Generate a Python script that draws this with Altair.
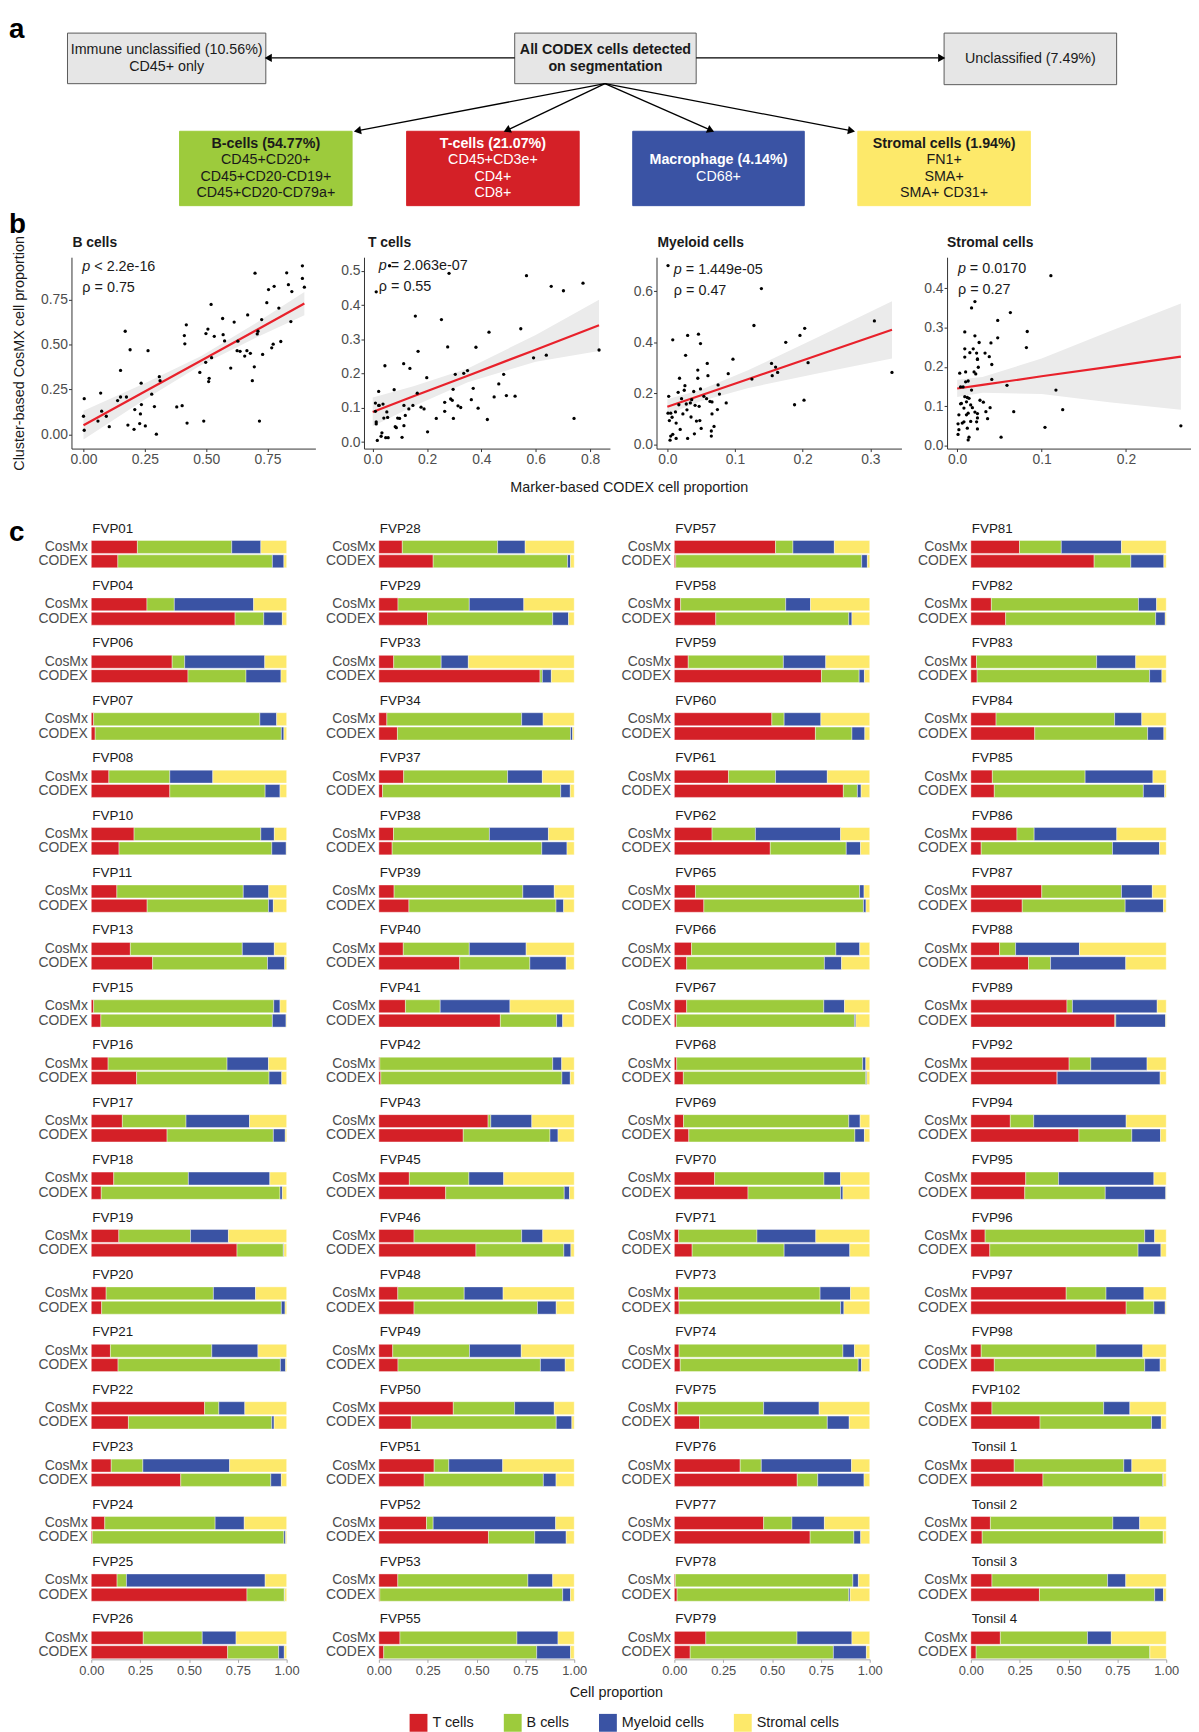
import math
import altair as alt
import pandas as pd

FONT = "Liberation Sans"
INK = "#1A1A1A"
LABEL_GREY = "#4D4D4D"

CELL_TYPES = ["T cells", "B cells", "Myeloid cells", "Stromal cells"]
CELL_COLORS = ["#D42027", "#9DCB3C", "#3A53A4", "#FDE96A"]

# ------------------------------------------------------------------ panel a
box_lines = [
    ["Immune unclassified (10.56%)", "CD45+ only"],
    ["All CODEX cells detected", "on segmentation"],
    ["Unclassified (7.49%)"],
    ["B-cells (54.77%)", "CD45+CD20+", "CD45+CD20-CD19+", "CD45+CD20-CD79a+"],
    ["T-cells (21.07%)", "CD45+CD3e+", "CD4+", "CD8+"],
    ["Macrophage (4.14%)", "CD68+"],
    ["Stromal cells (1.94%)", "FN1+", "SMA+", "SMA+ CD31+"],
]
box_bold = [0, 2, 0, 1, 1, 1, 1]
box_fill = ["#E6E6E6", "#E6E6E6", "#E6E6E6", "#9DCB3C", "#D42027", "#3A53A4", "#FDE96A"]
box_ink = [INK, INK, INK, INK, "white", "white", INK]

# diagram layout (page pixels)
BOX_X0 = [68, 519, 952, 181, 410, 638, 865]
BOX_X1 = [268, 702, 1126, 355, 584, 811, 1039]
BOX_Y0 = [26, 26, 26, 125, 125, 125, 125]
BOX_Y1 = [77, 77, 78, 200, 200, 200, 200]
BOX_LINE_H = [17.6, 17.6, 17.6, 16.6, 16.6, 16.6, 16.6]
ARROW_FROM = [(519, 51), (702, 51), (610, 77), (610, 77), (610, 77), (610, 77)]
ARROW_TO = [(268, 51), (952, 51), (358, 125), (509, 125), (719, 125), (861, 125)]
HEAD_SIZE = 70

# ------------------------------------------------------------------ panel b
b_x = [0.003, 0.000, 0.003, 0.070, 0.074, 0.059, 0.093, 0.105, 0.139, 0.151,
       0.151, 0.175, 0.170, 0.190, 0.181, 0.209, 0.206, 0.235, 0.236, 0.232,
       0.229, 0.252, 0.263, 0.278, 0.289, 0.297, 0.309, 0.312, 0.380, 0.402,
       0.411, 0.413, 0.419, 0.422, 0.474, 0.490, 0.499, 0.507, 0.498, 0.520,
       0.522, 0.512, 0.510, 0.533, 0.567, 0.569, 0.575, 0.600, 0.614, 0.629,
       0.626, 0.638, 0.657, 0.669, 0.666, 0.680, 0.688, 0.696, 0.699, 0.708,
       0.711, 0.717, 0.726, 0.730, 0.747, 0.754, 0.767, 0.773, 0.777, 0.796,
       0.804, 0.828, 0.835, 0.845, 0.849, 0.892, 0.892, 0.900]
b_y = [0.198, 0.100, 0.022, 0.229, 0.128, 0.073, 0.100, 0.042, 0.187, 0.355,
       0.207, 0.207, 0.573, 0.470, 0.051, 0.137, 0.027, 0.284, 0.165, 0.113,
       0.059, 0.046, 0.465, 0.223, 0.154, 0.000, 0.320, 0.298, 0.152, 0.159,
       0.549, 0.503, 0.609, 0.062, 0.344, 0.073, 0.560, 0.585, 0.400, 0.722,
       0.426, 0.311, 0.293, 0.545, 0.644, 0.554, 0.519, 0.368, 0.624, 0.518,
       0.465, 0.461, 0.435, 0.664, 0.465, 0.450, 0.298, 0.375, 0.896, 0.558,
       0.573, 0.073, 0.638, 0.444, 0.732, 0.805, 0.481, 0.501, 0.823, 0.702,
       0.516, 0.898, 0.832, 0.627, 0.794, 0.867, 0.937, 0.818]
b_fit_x = [0.0, 0.25, 0.48, 0.70, 0.90]
b_fit_y = [0.050, 0.238, 0.410, 0.576, 0.727]
b_fit_lo = [-0.030, 0.193, 0.385, 0.536, 0.662]
b_fit_hi = [0.130, 0.283, 0.435, 0.616, 0.792]

t_x = [0.013, 0.062, 0.281, 0.010, 0.010, 0.013, 0.013, 0.022, 0.022, 0.017,
       0.024, 0.031, 0.034, 0.041, 0.038, 0.045, 0.052, 0.055, 0.048, 0.057,
       0.079, 0.083, 0.087, 0.092, 0.099, 0.108, 0.114, 0.115, 0.115, 0.120,
       0.133, 0.137, 0.148, 0.157, 0.164, 0.167, 0.178, 0.189, 0.199, 0.202,
       0.234, 0.253, 0.265, 0.265, 0.276, 0.287, 0.293, 0.296, 0.297, 0.304,
       0.314, 0.324, 0.335, 0.349, 0.363, 0.370, 0.380, 0.388, 0.422, 0.428,
       0.447, 0.464, 0.482, 0.492, 0.524, 0.545, 0.566, 0.592, 0.639, 0.657,
       0.702, 0.741, 0.774, 0.833]
t_y = [0.439, 0.515, 0.493, 0.114, 0.090, 0.059, 0.053, 0.107, 0.148, 0.005,
       0.107, 0.017, 0.027, 0.070, 0.111, 0.223, 0.088, 0.072, 0.013, 0.013,
       0.153, 0.045, 0.042, 0.070, 0.069, 0.014, 0.229, 0.107, 0.048, 0.078,
       0.097, 0.215, 0.107, 0.368, 0.143, 0.265, 0.102, 0.097, 0.188, 0.030,
       0.069, 0.358, 0.116, 0.090, 0.278, 0.126, 0.122, 0.154, 0.069, 0.198,
       0.106, 0.101, 0.201, 0.209, 0.124, 0.157, 0.277, 0.099, 0.066, 0.321,
       0.132, 0.170, 0.198, 0.136, 0.134, 0.331, 0.486, 0.246, 0.254, 0.455,
       0.442, 0.069, 0.464, 0.269]
t_fit_x = [0.0, 0.15, 0.35, 0.60, 0.833]
t_fit_y = [0.088, 0.134, 0.194, 0.270, 0.341]
t_fit_lo = [0.046, 0.105, 0.175, 0.235, 0.266]
t_fit_hi = [0.130, 0.163, 0.215, 0.313, 0.416]

m_x = [0.001, 0.002, 0.001, 0.003, 0.005, 0.007, 0.005, 0.004, 0.008, 0.008,
       0.012, 0.013, 0.013, 0.016, 0.018, 0.017, 0.019, 0.021, 0.023, 0.025,
       0.026, 0.027, 0.028, 0.029, 0.030, 0.030, 0.034, 0.035, 0.036, 0.039,
       0.040, 0.041, 0.043, 0.045, 0.045, 0.046, 0.047, 0.048, 0.049, 0.049,
       0.050, 0.054, 0.058, 0.059, 0.060, 0.063, 0.066, 0.066, 0.065, 0.065,
       0.069, 0.074, 0.075, 0.077, 0.087, 0.090, 0.097, 0.125, 0.128, 0.139,
       0.154, 0.155, 0.160, 0.163, 0.175, 0.188, 0.196, 0.202, 0.203, 0.208,
       0.306, 0.332]
m_y = [0.701, 0.188, 0.122, 0.093, 0.122, 0.106, 0.032, 0.016, 0.410, 0.039,
       0.127, 0.083, 0.023, 0.204, 0.259, 0.155, 0.058, 0.179, 0.119, 0.212,
       0.230, 0.349, 0.158, 0.135, 0.427, 0.023, 0.162, 0.107, 0.175, 0.207,
       0.041, 0.153, 0.091, 0.259, 0.291, 0.432, 0.149, 0.093, 0.395, 0.217,
       0.062, 0.188, 0.179, 0.317, 0.269, 0.168, 0.166, 0.119, 0.052, 0.032,
       0.070, 0.136, 0.233, 0.197, 0.162, 0.277, 0.334, 0.256, 0.466, 0.611,
       0.317, 0.269, 0.303, 0.282, 0.400, 0.155, 0.427, 0.173, 0.455, 0.320,
       0.484, 0.282]
m_fit_x = [0.0, 0.05, 0.12, 0.22, 0.332]
m_fit_y = [0.147, 0.192, 0.256, 0.347, 0.449]
m_fit_lo = [0.117, 0.170, 0.221, 0.277, 0.337]
m_fit_hi = [0.177, 0.214, 0.291, 0.417, 0.561]

s_x = [0.001, 0.002, 0.001, 0.002, 0.004, 0.003, 0.004, 0.005, 0.006, 0.007,
       0.008, 0.008, 0.009, 0.009, 0.009, 0.009, 0.010, 0.010, 0.011, 0.011,
       0.012, 0.012, 0.013, 0.013, 0.013, 0.014, 0.014, 0.015, 0.016, 0.016,
       0.017, 0.017, 0.018, 0.019, 0.020, 0.021, 0.021, 0.021, 0.022, 0.023,
       0.023, 0.024, 0.024, 0.025, 0.024, 0.024, 0.024, 0.026, 0.027, 0.031,
       0.033, 0.034, 0.036, 0.038, 0.039, 0.040, 0.041, 0.041, 0.048, 0.048,
       0.052, 0.059, 0.063, 0.067, 0.082, 0.083, 0.104, 0.111, 0.117, 0.125,
       0.265]
s_y = [0.055, 0.078, 0.028, 0.040, 0.106, 0.184, 0.149, 0.107, 0.057, 0.149,
       0.095, 0.060, 0.289, 0.246, 0.225, 0.124, 0.162, 0.187, 0.111, 0.078,
       0.044, 0.122, 0.082, 0.014, 0.164, 0.120, 0.021, 0.236, 0.103, 0.061,
       0.350, 0.141, 0.096, 0.246, 0.187, 0.366, 0.279, 0.085, 0.182, 0.060,
       0.235, 0.220, 0.219, 0.199, 0.081, 0.070, 0.042, 0.262, 0.115, 0.110,
       0.235, 0.086, 0.068, 0.226, 0.096, 0.261, 0.206, 0.168, 0.318, 0.274,
       0.021, 0.153, 0.338, 0.086, 0.249, 0.290, 0.046, 0.432, 0.141, 0.091,
       0.050]
s_fit_x = [0.0, 0.03, 0.10, 0.18, 0.265]
s_fit_y = [0.145, 0.154, 0.176, 0.200, 0.226]
s_fit_lo = [0.123, 0.134, 0.131, 0.110, 0.091]
s_fit_hi = [0.167, 0.174, 0.221, 0.290, 0.361]

# ------------------------------------------------------------------ panel c
samples_col1 = ["FVP01", "FVP04", "FVP06", "FVP07", "FVP08", "FVP10", "FVP11", "FVP13", "FVP15", "FVP16",
                "FVP17", "FVP18", "FVP19", "FVP20", "FVP21", "FVP22", "FVP23", "FVP24", "FVP25", "FVP26"]
samples_col2 = ["FVP28", "FVP29", "FVP33", "FVP34", "FVP37", "FVP38", "FVP39", "FVP40", "FVP41", "FVP42",
                "FVP43", "FVP45", "FVP46", "FVP48", "FVP49", "FVP50", "FVP51", "FVP52", "FVP53", "FVP55"]
samples_col3 = ["FVP57", "FVP58", "FVP59", "FVP60", "FVP61", "FVP62", "FVP65", "FVP66", "FVP67", "FVP68",
                "FVP69", "FVP70", "FVP71", "FVP73", "FVP74", "FVP75", "FVP76", "FVP77", "FVP78", "FVP79"]
samples_col4 = ["FVP81", "FVP82", "FVP83", "FVP84", "FVP85", "FVP86", "FVP87", "FVP88", "FVP89", "FVP92",
                "FVP94", "FVP95", "FVP96", "FVP97", "FVP98", "FVP102", "Tonsil 1", "Tonsil 2", "Tonsil 3", "Tonsil 4"]

# cumulative proportion where each cell type ends (T | T+B | T+B+Myeloid), in sample order
cosmx_T_end = [0.236, 0.285, 0.414, 0.012, 0.090, 0.219, 0.131, 0.200, 0.012, 0.086,
               0.159, 0.115, 0.141, 0.076, 0.098, 0.580, 0.102, 0.069, 0.132, 0.266,
               0.120, 0.098, 0.076, 0.041, 0.127, 0.075, 0.078, 0.125, 0.136, 0.005,
               0.559, 0.156, 0.180, 0.097, 0.071, 0.381, 0.283, 0.244, 0.097, 0.108,
               0.518, 0.032, 0.071, 0.499, 0.277, 0.193, 0.108, 0.088, 0.063, 0.012,
               0.047, 0.206, 0.022, 0.022, 0.024, 0.017, 0.337, 0.457, 0.005, 0.161,
               0.249, 0.105, 0.029, 0.129, 0.110, 0.236, 0.363, 0.147, 0.492, 0.503,
               0.202, 0.281, 0.073, 0.488, 0.053, 0.108, 0.222, 0.100, 0.108, 0.151]
cosmx_B_end = [0.719, 0.425, 0.478, 0.863, 0.402, 0.868, 0.778, 0.773, 0.934, 0.695,
               0.485, 0.497, 0.508, 0.625, 0.617, 0.653, 0.264, 0.634, 0.180, 0.568,
               0.608, 0.463, 0.319, 0.731, 0.659, 0.566, 0.737, 0.463, 0.314, 0.890,
               0.573, 0.461, 0.731, 0.437, 0.464, 0.695, 0.358, 0.278, 0.763, 0.707,
               0.607, 0.570, 0.558, 0.562, 0.518, 0.415, 0.948, 0.827, 0.765, 0.964,
               0.893, 0.766, 0.423, 0.746, 0.863, 0.457, 0.445, 0.602, 0.914, 0.628,
               0.463, 0.858, 0.644, 0.736, 0.585, 0.324, 0.771, 0.229, 0.520, 0.614,
               0.322, 0.449, 0.890, 0.692, 0.641, 0.680, 0.783, 0.727, 0.700, 0.597]
cosmx_M_end = [0.868, 0.831, 0.888, 0.949, 0.622, 0.937, 0.908, 0.937, 0.966, 0.907,
               0.810, 0.914, 0.702, 0.841, 0.853, 0.786, 0.708, 0.783, 0.890, 0.741,
               0.749, 0.742, 0.458, 0.841, 0.837, 0.868, 0.898, 0.754, 0.671, 0.936,
               0.783, 0.639, 0.839, 0.636, 0.729, 0.898, 0.634, 0.905, 0.890, 0.917,
               0.819, 0.697, 0.775, 0.750, 0.783, 0.851, 0.971, 0.949, 0.871, 0.980,
               0.951, 0.851, 0.724, 0.902, 0.922, 0.741, 0.907, 0.768, 0.942, 0.909,
               0.771, 0.951, 0.844, 0.875, 0.932, 0.747, 0.929, 0.556, 0.954, 0.902,
               0.795, 0.937, 0.941, 0.886, 0.880, 0.814, 0.824, 0.864, 0.793, 0.719]
codex_T_end = [0.136, 0.736, 0.495, 0.020, 0.402, 0.142, 0.286, 0.314, 0.049, 0.232,
               0.388, 0.051, 0.746, 0.053, 0.137, 0.190, 0.458, 0.005, 0.797, 0.698,
               0.278, 0.249, 0.825, 0.095, 0.019, 0.068, 0.154, 0.414, 0.622, 0.010,
               0.432, 0.342, 0.497, 0.180, 0.098, 0.166, 0.232, 0.561, 0.005, 0.025,
               0.007, 0.212, 0.753, 0.722, 0.865, 0.491, 0.151, 0.063, 0.010, 0.046,
               0.074, 0.377, 0.091, 0.024, 0.030, 0.129, 0.629, 0.695, 0.014, 0.081,
               0.631, 0.178, 0.032, 0.327, 0.120, 0.053, 0.263, 0.295, 0.737, 0.442,
               0.553, 0.276, 0.097, 0.795, 0.120, 0.354, 0.369, 0.058, 0.351, 0.027]
codex_B_end = [0.927, 0.883, 0.792, 0.973, 0.890, 0.924, 0.907, 0.902, 0.927, 0.910,
               0.932, 0.966, 0.983, 0.973, 0.968, 0.924, 0.919, 0.986, 0.988, 0.959,
               0.966, 0.890, 0.837, 0.981, 0.931, 0.834, 0.907, 0.773, 0.910, 0.937,
               0.876, 0.949, 0.947, 0.812, 0.827, 0.908, 0.842, 0.798, 0.941, 0.808,
               0.959, 0.893, 0.946, 0.909, 0.937, 0.880, 0.968, 0.768, 0.922, 0.980,
               0.924, 0.851, 0.562, 0.851, 0.941, 0.783, 0.734, 0.919, 0.893, 0.814,
               0.819, 0.946, 0.915, 0.905, 0.883, 0.725, 0.790, 0.408, 0.742, 0.442,
               0.824, 0.688, 0.856, 0.937, 0.890, 0.925, 0.981, 0.985, 0.941, 0.917]
codex_M_end = [0.986, 0.978, 0.971, 0.986, 0.966, 0.998, 0.932, 0.990, 0.997, 0.975,
               0.993, 0.978, 0.986, 0.992, 0.995, 0.936, 0.973, 0.995, 0.990, 0.988,
               0.981, 0.971, 0.883, 0.992, 0.980, 0.963, 0.946, 0.959, 0.941, 0.980,
               0.917, 0.976, 0.983, 0.908, 0.954, 0.988, 0.907, 0.959, 0.981, 0.981,
               0.988, 0.909, 0.973, 0.975, 0.956, 0.953, 0.981, 0.856, 0.929, 0.985,
               0.973, 0.863, 0.898, 0.868, 0.958, 0.895, 0.971, 0.954, 0.900, 0.983,
               0.988, 0.995, 0.978, 0.988, 0.992, 0.966, 0.986, 0.793, 0.997, 0.969,
               0.971, 0.998, 0.973, 0.995, 0.969, 0.975, 0.985, 0.986, 0.986, 0.917]


# ================================================================== helpers
LETTER_SIZE = 28


def blank(w, y0=0, y1=1, letter=None, lx=1, ly=0):
    frame = (alt.Chart(pd.DataFrame({"d": [0]})).mark_rect(opacity=0)
             .encode(x=alt.value(0), x2=alt.value(w), y=alt.value(y0), y2=alt.value(y1)))
    layers = [frame]
    if letter:
        layers.append(alt.Chart(pd.DataFrame({"t": [letter]}))
                      .mark_text(fontSize=LETTER_SIZE, fontWeight="bold", align="left",
                                 baseline="alphabetic", color="black")
                      .encode(text="t:N", x=alt.value(lx), y=alt.value(ly)))
    return alt.layer(*layers).properties(width=w, height=1)


# ================================================================== panel a
B_TOP = 50                      # room reserved above the scatter plots
A_W, A_H = 1183, 194
xa = alt.Scale(domain=[8, 8 + A_W], nice=False, zero=False)
ya = alt.Scale(domain=[8, 8 + A_H], nice=False, zero=False, reverse=True)

rect_df = pd.DataFrame({"x0": BOX_X0, "x1": BOX_X1, "y0": BOX_Y0, "y1": BOX_Y1,
                        "fill": box_fill, "stroke": ["#595959"] * 3 + box_fill[3:]})
trows = []
for i, lines in enumerate(box_lines):
    cx = (BOX_X0[i] + BOX_X1[i]) / 2
    cy = (BOX_Y0[i] + BOX_Y1[i]) / 2
    n = len(lines)
    for j, line in enumerate(lines):
        trows.append({"x": cx, "y": cy + (j - (n - 1) / 2) * BOX_LINE_H[i], "text": line,
                      "bold": j < box_bold[i], "ink": box_ink[i]})
text_df = pd.DataFrame(trows)

r_sym = math.sqrt(HEAD_SIZE) / 2
h_sym = math.sqrt(3) * r_sym / 2
arows, hrows = [], []
for (x0, y0), (x1, y1) in zip(ARROW_FROM, ARROW_TO):
    d = math.hypot(x1 - x0, y1 - y0)
    ux, uy = (x1 - x0) / d, (y1 - y0) / d
    arows.append({"xa": x0, "ya": y0, "xb": x1 - ux * 1.6 * h_sym, "yb": y1 - uy * 1.6 * h_sym})
    hrows.append({"x": x1 - ux * h_sym, "y": y1 - uy * h_sym,
                  "ang": math.degrees(math.atan2(ux, -uy)) % 360})
arrow_df = pd.DataFrame(arows)
head_df = pd.DataFrame(hrows)
letters_df = pd.DataFrame({"x": [9], "y": [31], "t": ["a"]})

rect_l = alt.Chart(rect_df).mark_rect(strokeWidth=1).encode(
    x=alt.X("x0:Q", scale=xa, axis=None), x2="x1:Q",
    y=alt.Y("y0:Q", scale=ya, axis=None), y2="y1:Q",
    fill=alt.Fill("fill:N", scale=None), stroke=alt.Stroke("stroke:N", scale=None))
rule_l = alt.Chart(arrow_df).mark_rule(color="black", strokeWidth=1.3).encode(
    x=alt.X("xa:Q", scale=xa, axis=None), x2="xb:Q",
    y=alt.Y("ya:Q", scale=ya, axis=None), y2="yb:Q")
head_l = alt.Chart(head_df).mark_point(shape="triangle", filled=True, color="black",
                                        size=HEAD_SIZE, opacity=1).encode(
    x=alt.X("x:Q", scale=xa, axis=None), y=alt.Y("y:Q", scale=ya, axis=None),
    angle=alt.Angle("ang:Q", scale=None))
txt_base = alt.Chart(text_df).encode(
    x=alt.X("x:Q", scale=xa, axis=None), y=alt.Y("y:Q", scale=ya, axis=None),
    text="text:N", fill=alt.Fill("ink:N", scale=None))
txt_n = txt_base.transform_filter("!datum.bold").mark_text(fontSize=14.4, baseline="middle", align="center")
txt_b = txt_base.transform_filter("datum.bold").mark_text(fontSize=14.4, fontWeight="bold",
                                                         baseline="middle", align="center")
let_l = alt.Chart(letters_df).mark_text(fontSize=LETTER_SIZE, fontWeight="bold", align="left",
                                        baseline="alphabetic", color="black").encode(
    x=alt.X("x:Q", scale=xa, axis=None), y=alt.Y("y:Q", scale=ya, axis=None), text="t:N")
panel_a = alt.layer(rect_l, rule_l, head_l, txt_n, txt_b, let_l).properties(width=A_W, height=A_H)


# ================================================================== panel b
B_H = 193


def scatter(px, py, fx, fy, lo, hi, xdom, ydom, xticks, yticks, fmt, width, title, title_dx,
            ann, p_rest, rho_text, y_title=None, x_title=None):
    pts = pd.DataFrame({"x": px, "y": py})
    fit = pd.DataFrame({"x": fx, "y": fy, "lo": lo, "hi": hi})
    xs = alt.Scale(domain=xdom, nice=False, zero=False)
    ys = alt.Scale(domain=ydom, nice=False, zero=False)
    common = dict(grid=False, domainColor="#333333", tickColor="#333333", tickSize=3,
                  labelColor=LABEL_GREY, labelFontSize=14, labelPadding=1,
                  titleFontSize=14.5, titleFontWeight="normal", titleColor=INK, titleBaseline="middle")
    if x_title:
        xaxis = alt.Axis(values=xticks, format=fmt, labelFlush=False, title=x_title[0],
                         titleX=x_title[1], titleY=x_title[2], **common)
    else:
        xaxis = alt.Axis(values=xticks, format=fmt, labelFlush=False, title=None, **common)
    if y_title:
        yaxis = alt.Axis(values=yticks, format=fmt, title=y_title[0], titleX=y_title[1],
                         titleY=y_title[2], **common)
    else:
        yaxis = alt.Axis(values=yticks, format=fmt, title=None, **common)
    X = lambda f: alt.X(f, scale=xs, axis=xaxis)
    Y = lambda f: alt.Y(f, scale=ys, axis=yaxis)
    band = alt.Chart(fit).mark_area(color="#EBEBEB", opacity=1).encode(x=X("x:Q"), y=Y("lo:Q"), y2="hi:Q")
    line = alt.Chart(fit).mark_line(color="#E8212B", strokeWidth=2.2).encode(x=X("x:Q"), y=Y("y:Q"))
    dots = alt.Chart(pts).mark_circle(color="black", size=11, opacity=1).encode(x=X("x:Q"), y=Y("y:Q"))
    ax, ay = ann

    def label(t, x, y, **kw):
        return alt.Chart(pd.DataFrame({"t": [t]})).mark_text(
            align="left", baseline="middle", color=INK, **kw).encode(
            text="t:N", x=alt.value(x), y=alt.value(y))

    p_it = label("p", ax, ay, fontSize=14.5, fontStyle="italic")
    p_tx = label(p_rest, ax + 12, ay, fontSize=14.5)
    rho = label(rho_text, ax, ay + 21, fontSize=14.5)
    ttl = label(title, title_dx, -14, fontSize=14, fontWeight="bold")
    return alt.layer(band, line, dots, p_it, p_tx, rho, ttl).properties(width=width, height=B_H)


ch_b = scatter(b_x, b_y, b_fit_x, b_fit_y, b_fit_lo, b_fit_hi, [-0.049, 0.945], [-0.08, 0.985],
               [0, 0.25, 0.5, 0.75], [0, 0.25, 0.5, 0.75], ".2f", 246, "B cells", 1,
               (11, 10), "< 2.2e-16", "\u03c1 = 0.75",
               y_title=("Cluster-based CosMX cell proportion", -52, B_H / 2))
ch_t = scatter(t_x, t_y, t_fit_x, t_fit_y, t_fit_lo, t_fit_hi, [-0.032, 0.873], [-0.019, 0.54],
               [0, 0.2, 0.4, 0.6, 0.8], [0, 0.1, 0.2, 0.3, 0.4, 0.5], ".1f", 248, "T cells", 4,
               (15, 9), "= 2.063e-07", "\u03c1 = 0.55",
               x_title=("Marker-based CODEX cell proportion", 267, 39))
ch_m = scatter(m_x, m_y, m_fit_x, m_fit_y, m_fit_lo, m_fit_hi, [-0.016, 0.346], [-0.017, 0.734],
               [0, 0.1, 0.2, 0.3], [0, 0.2, 0.4, 0.6], ".1f", 247, "Myeloid cells", 1,
               (17.5, 13), "= 1.449e-05", "\u03c1 = 0.47")
ch_s = scatter(s_x, s_y, s_fit_x, s_fit_y, s_fit_lo, s_fit_hi, [-0.012, 0.277], [-0.008, 0.479],
               [0, 0.1, 0.2], [0, 0.1, 0.2, 0.3, 0.4], ".1f", 246, "Stromal cells", 0,
               (11, 12), "= 0.0170", "\u03c1 = 0.27")

# ================================================================== panel c
C_W, C_H = 197, 1158
LEGEND = alt.Legend(orient="none", legendX=405, legendY=1713, direction="horizontal", columns=4,
                    title=None, symbolType="square", symbolSize=324, symbolStrokeWidth=0,
                    labelFontSize=14.5, labelColor=INK, labelOffset=5, columnPadding=30)


def column(samples, k0, x_title=None):
    rows, trows_, keys = [], [], []
    for i, s in enumerate(samples):
        k = k0 + i
        keys += [f"{s}|a", f"{s}|b", f"{s}|CosMx", f"{s}|CODEX"]
        trows_.append({"key": f"{s}|b", "xpos": 0.0, "sample": s})
        for src, ends in (("CosMx", (cosmx_T_end[k], cosmx_B_end[k], cosmx_M_end[k])),
                          ("CODEX", (codex_T_end[k], codex_B_end[k], codex_M_end[k]))):
            edges = [0.0, *ends, 1.0]
            for j, cell in enumerate(CELL_TYPES):
                rows.append({"key": f"{s}|{src}", "x0": edges[j], "x1": edges[j + 1], "cell": cell})
    df = pd.DataFrame(rows)
    tdf = pd.DataFrame(trows_)
    xs = alt.Scale(domain=[0, 1], nice=False, zero=False)
    ys = alt.Scale(domain=keys, paddingInner=0.1, paddingOuter=0.05)
    xkw = dict(values=[0, 0.25, 0.5, 0.75, 1.0], format=".2f", labelFlush=False, grid=False,
               domainColor="#A6A6A6", tickColor="#A6A6A6", tickSize=3, labelColor=LABEL_GREY,
               labelFontSize=13, labelPadding=2)
    if x_title:
        xaxis = alt.Axis(title=x_title[0], titleX=x_title[1], titleY=x_title[2], titleFontSize=14.5,
                         titleFontWeight="normal", titleColor=INK, titleBaseline="middle", **xkw)
    else:
        xaxis = alt.Axis(title=None, **xkw)
    yaxis = alt.Axis(title=None, domain=False, ticks=False, labelFontSize=14, labelColor=LABEL_GREY,
                     labelPadding=4, labelOverlap=False,
                     labelExpr="indexof(datum.value, '|CosMx') >= 0 ? 'CosMx' : "
                               "(indexof(datum.value, '|CODEX') >= 0 ? 'CODEX' : '')")
    bars = alt.Chart(df).mark_bar(stroke="white", strokeWidth=0.4).encode(
        x=alt.X("x0:Q", scale=xs, axis=xaxis), x2="x1:Q",
        y=alt.Y("key:N", scale=ys, axis=yaxis),
        color=alt.Color("cell:N", scale=alt.Scale(domain=CELL_TYPES, range=CELL_COLORS), legend=LEGEND))
    names = alt.Chart(tdf).mark_text(align="left", baseline="middle", dy=-4, dx=1, fontSize=13.5,
                                     color=INK).encode(
        x=alt.X("xpos:Q", scale=xs, axis=xaxis), y=alt.Y("key:N", scale=ys, axis=yaxis), text="sample:N")
    return alt.layer(bars, names).properties(width=C_W, height=C_H)


col1 = column(samples_col1, 0)
col2 = column(samples_col2, 20, x_title=("Cell proportion", 239, 33))
col3 = column(samples_col3, 40)
col4 = column(samples_col4, 60)

# ================================================================== layout
row_b = alt.hconcat(blank(64, -B_TOP, 255, "b", 1, -24), ch_b, blank(49), ch_t, blank(47), ch_m,
                    blank(46), ch_s, spacing=0, bounds="flush")
row_c = alt.hconcat(blank(84, 0, 1, "c", 1, 30), col1, blank(93), col2, blank(101), col3,
                    blank(102), col4, spacing=0, bounds="flush")

chart = alt.vconcat(panel_a, row_b, row_c, spacing=0)
chart = (chart.properties(padding=0, background="white")
         .configure(font=FONT)
         .configure_view(stroke=None))

chart.save("out.html", embed_options={"renderer": "svg", "actions": False})
